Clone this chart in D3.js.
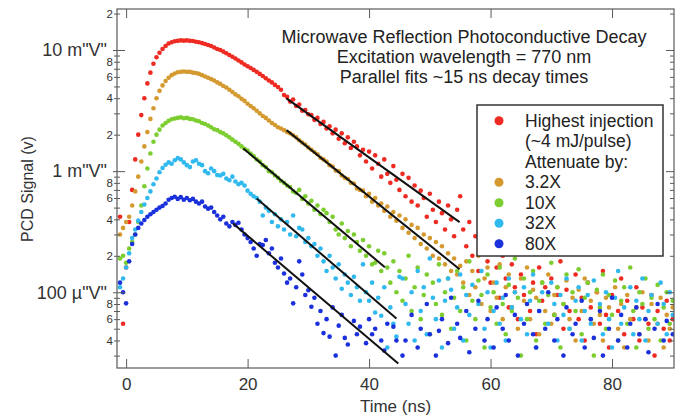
<!DOCTYPE html>
<html>
<head>
<meta charset="utf-8">
<script src="https://cdn.jsdelivr.net/npm/d3@7"></script>
<style>
  body { margin: 0; background: #fff; }
  svg { font-family: "Liberation Sans", Arial, Helvetica, sans-serif; }
</style>
</head>
<body>
<div id="chart"></div>
<script>
// PCD signal samples in microvolts, one value every 0.5 ns starting at -1 ns
// (null = point below the plotted range)
let sampleStart = -1;
let sampleStep = 0.5;

let seriesNames = ["Highest", "3.2X", "10X", "32X", "80X"];
let seriesColors = ["#ee2a22", "#d49a30", "#7ccd30", "#2fb9ee", "#1a30dc"];

let sigHighest = [
  420, 55, 160, 380, 700, 1250, 2000, 2900, 4000, 5300,
  6500, 7700, 8700, 9500, 10200, 10800, 11300, 11600, 11800, 11900,
  12000, 11950, 12000, 11900, 11850, 11700, 11600, 11400, 11200, 11000,
  10800, 10500, 10200, 10000, 9700, 9400, 9100, 8800, 8500, 8200,
  7900, 7600, 7350, 7100, 6850, 6600, 6350, 6100, 5850, 5600,
  5400, 5150, 4950, 4700, 4250, 4100, 3750, 3900, 3450, 3550,
  3150, 3200, 2950, 2900, 2650, 2750, 2450, 2550, 2250, 2350,
  2050, 2200, 1850, 2050, 1700, 1900, 1550, 1750, 1600, 1350,
  1500, 1200, 1450, 1050, 1350, 1150, 900, 1250, 950, 800,
  1100, 850, 700, 950, 620, 880, 560, 760, 520, 690,
  600, 420, 650, 480, 380, 560, 450, 330, 520, 400,
  290, 480, 620, 330, 240, 380, 200, 290, 150, 260,
  330, 180, 120, 230, 160, 90, 200, 130, 75, 170,
  110, 60, 140, 95, 210, 70, 120, 45, 160, 85,
  110, null, 130, 65, 95, 180, 50, 105, 70, null,
  140, 60, 90, 40, 120, 75, null, 100, 55, 150,
  65, 35, 95, null, 70, 130, 45, 85, null, 60,
  110, 40, 75, null, 55, 95, 30, 70, null, 50,
  85, 40, 60
];

let sig3_2X = [
  300, 340, 380, 420, 520, 680, 900, 1200, 1600, 2100,
  2700, 3300, 4000, 4600, 5100, 5550, 5900, 6200, 6400, 6550,
  6600, 6650, 6600, 6600, 6500, 6450, 6350, 6200, 6050, 5900,
  5750, 5600, 5400, 5250, 5050, 4900, 4700, 4500, 4300, 4150,
  3950, 3800, 3600, 3450, 3300, 3150, 3000, 2850, 2750, 2620,
  2500, 2400, 2300, 2250, 2180, 2100, 2050, 1980, 1900, 1800,
  1720, 1660, 1570, 1500, 1440, 1380, 1290, 1250, 1200, 1120,
  1090, 1010, 1000, 920, 880, 860, 800, 790, 720, 700,
  690, 620, 650, 560, 600, 520, 540, 470, 510, 420,
  460, 390, 430, 340, 400, 310, 360, 280, 340, 250,
  300, 230, 280, 200, 260, 190, 240, 170, 210, 150,
  190, 140, 165, 120, 180, 95, 150, 110, 200, 80,
  130, 160, 70, 120, 90, 170, 60, 110, 140, 75,
  100, 50, 130, 85, 160, 60, 105, 90, 45, 120,
  70, 140, 55, 95, 110, null, 80, 125, 60, 90,
  40, 105, 70, 130, null, 85, 55, 100, 65, 40,
  90, 75, null, 110, 50, 80, 35, 95, 60, null,
  75, 45, 100, 60, 40, 80, null, 55, 90, 35,
  65, 50, 75
];

let sig10X = [
  190, 200, 175, 230, 260, 300, 380, 520, 750, 1050,
  1400, 1750, 2000, 2200, 2380, 2500, 2600, 2680, 2720, 2750,
  2780, 2730, 2750, 2700, 2680, 2620, 2580, 2500, 2450, 2380,
  2300, 2220, 2180, 2100, 2050, 1980, 1900, 1820, 1750, 1680,
  1600, 1530, 1480, 1400, 1330, 1250, 1200, 1120, 1080, 1000,
  980, 920, 880, 830, 800, 760, 740, 680, 660, 700,
  590, 620, 540, 570, 480, 520, 440, 480, 450, 380,
  420, 330, 300, 370, 280, 320, 240, 300, 260, 220,
  270, 200, 240, 170, 175, 220, 150, 210, 160, 120,
  180, 100, 150, 85, 130, 200, 70, 110, 160, 60,
  95, 140, 45, 120, 80, 170, 65, 100, 130, 50,
  90, 150, 70, 110, 40, 180, 85, 60, 125, 95,
  35, 140, 75, 100, 55, 160, 80, 45, 115, 70,
  190, 90, 30, 130, 60, 100, 150, 40, 85, 120,
  55, 95, 175, 65, 110, 35, 80, 140, 50, 100,
  70, 155, 45, 90, 120, 60, 30, 105, 75, 140,
  50, 95, 65, 125, 40, 85, 110, 55, 160, 70,
  35, 100, 80, 130, 50, 90, 60, 115, 40, 75,
  100, 55, 85
];

let sig32X = [
  110, 130, 160, 210, 280, 330, 390, 460, 530, 600,
  680, 780, 870, 980, 1060, 1130, 1180, 1150, 1230, 1280,
  1250, 1180, 1120, 1080, 1200, 1230, 1150, 1120, 1000, 960,
  1050, 1000, 930, 920, 950, 870, 840, 900, 820, 780,
  800, 760, 690, 650, 620, 600, 560, 430, 500, 470,
  380, 440, 350, 400, 330, 380, 300, 430, 290, 340,
  330, 260, 280, 240, 250, 200, 230, 180, 150, 200,
  160, 130, 170, 107, 140, 120, 95, 134, 110, 85,
  170, 100, 85, 120, 68, 90, 64, 110, 35, 75,
  55, 43, 134, 130, 80, 55, 100, 40, 150, 70,
  110, 45, 190, 90, 60, 125, 35, 85, 130, 105,
  50, 75, 140, 40, 95, 65, 115, null, 80, 150,
  50, 100, 35, 70, 120, 55, 90, 40, 130, 75,
  100, null, 60, 110, 45, 85, 140, 35, 70, 100,
  null, 55, 120, 80, 40, 95, 65, 130, 50, null,
  85, 110, 40, 70, 95, 55, 125, null, 80, 45,
  100, 60, 35, 90, 150, 55, 75, null, 110, 45,
  85, 60, 130, 40, 70, 95, null, 55, 120, 80,
  45, 100, 65
];

let sig80X = [
  120, 100, 81, 180, 250, 300, 340, 370, 395, 420,
  440, 460, 480, 500, 515, 540, 580, 600, 615, 590,
  610, 580, 600, 575, 590, 560, 540, 560, 510, 490,
  500, 460, 430, 400, 420, 370, 350, 380, 360, 375,
  330, 300, 280, 260, 230, 200, 250, 245, 270, 210,
  230, 175, 160, 190, 143, 120, 130, 81, 110, 180,
  140, 95, 104, 76, 90, 55, 70, 46, 60, 43,
  75, 30, 53, 65, 42, 37, null, 58, 45, 52,
  null, 38, 60, 45, 50, null, 40, 33, 55, null,
  52, 40, null, 30, 40, null, 65, null, 35, 50,
  null, 80, 45, null, 30, 48, 60, null, 38, 90,
  null, 55, 42, null, 70, 32, null, 50, 85, null,
  40, 60, null, 35, 75, null, 50, 95, 40, null,
  65, 30, null, 55, 80, null, 45, 35, 70, null,
  50, 100, null, 40, 60, null, 30, 75, null, 45,
  55, null, 85, 35, null, 60, 42, null, 70, 30,
  null, 50, 90, null, 40, 65, null, 35, 55, null,
  75, 45, null, 60, 32, null, 50, 80, null, 40,
  58, null, 45
];

let allSeries = [sigHighest, sig3_2X, sig10X, sig32X, sig80X];

// ~15 ns exponential fits (time in ns, signal in V)
let fitStartTime = [26.4, 26.4, 19.3, 21.5, 17.6];
let fitStartValue = [3.99e-3, 2.18e-3, 1.54e-3, 5.95e-4, 3.70e-4];
let fitEndTime = [54.9, 54.9, 42.6, 44.5, 44.8];
let fitEndValue = [3.79e-4, 1.55e-4, 1.61e-4, 6.06e-5, 2.58e-5];

let xTicks = [0, 20, 40, 60, 80];
let yMajorTicks = [1e-4, 1e-3, 1e-2];
let yMajorLabels = ["100 \u00b5\"V\"", "1 m\"V\"", "10 m\"V\""];

let titleLines = [
  "Microwave Reflection Photoconductive Decay",
  "Excitation wavelength = 770 nm",
  "Parallel fits ~15 ns decay times"
];
let legendLabels = ["Highest injection", "(~4 mJ/pulse)", "Attenuate by:", "3.2X", "10X", "32X", "80X"];
let legendColorIndex = [0, null, null, 1, 2, 3, 4];

// layout
let totalWidth = 683, totalHeight = 418;
let margin = { top: 9, right: 9, bottom: 50, left: 117 };
let width = totalWidth - margin.left - margin.right;
let height = totalHeight - margin.top - margin.bottom;

let xScale = d3.scaleLinear()
  .domain([-1.5, 90.2])
  .range([0, width]);

let yScale = d3.scaleLog()
  .domain([2.37e-5, 2.18e-2])
  .range([height, 0]);

// minor ticks: 2..9 multiples of each decade inside the domain
let yMinorTicks = [];
[1e-5, 1e-4, 1e-3, 1e-2].forEach(dec => {
  for (let k = 2; k <= 9; k++) {
    let v = k * dec;
    if (v >= yScale.domain()[0] && v <= yScale.domain()[1]) yMinorTicks.push(v);
  }
});

let svg = d3.select("#chart")
  .append("svg")
  .attr("width", totalWidth)
  .attr("height", totalHeight);

let g = svg.append("g")
  .attr("transform", "translate(" + margin.left + "," + margin.top + ")");

g.append("clipPath")
  .attr("id", "plotClip")
  .append("rect")
  .attr("width", width)
  .attr("height", height);

// data dots
let dotLayer = g.append("g").attr("clip-path", "url(#plotClip)");
allSeries.forEach((values, si) => {
  let pts = values
    .map((v, i) => ({ t: sampleStart + i * sampleStep, v: v }))
    .filter(d => d.v !== null);
  dotLayer.append("g")
    .selectAll("circle")
    .data(pts)
    .enter()
    .append("circle")
    .attr("cx", d => xScale(d.t))
    .attr("cy", d => yScale(d.v * 1e-6))
    .attr("r", 2.3)
    .attr("fill", seriesColors[si]);
});

// fit lines
fitStartTime.forEach((t0, i) => {
  dotLayer.append("line")
    .attr("x1", xScale(t0))
    .attr("y1", yScale(fitStartValue[i]))
    .attr("x2", xScale(fitEndTime[i]))
    .attr("y2", yScale(fitEndValue[i]))
    .attr("stroke", "#111")
    .attr("stroke-width", 2);
});

// axes
let tickColor = "#5a5a5a";
let labelColor = "#333";

function styleAxis(sel) {
  sel.select(".domain").remove();
  sel.selectAll(".tick line").attr("stroke", tickColor).attr("stroke-width", 1);
}

// bottom: inward ticks with labels
g.append("g")
  .attr("transform", "translate(0," + height + ")")
  .call(d3.axisBottom(xScale).tickValues(xTicks).tickSizeInner(-9).tickSizeOuter(0))
  .call(styleAxis)
  .call(a => a.selectAll("text").attr("fill", labelColor).style("font-size", "17px").attr("y", 0).attr("dy", "22px"));

// top mirror ticks
g.append("g")
  .call(d3.axisTop(xScale).tickValues(xTicks).tickSizeInner(-9).tickSizeOuter(0).tickFormat(""))
  .call(styleAxis);

// left: minor ticks with digit labels (2, 4, 6, 8 only)
let minorFmt = v => {
  let k = Math.round(v / Math.pow(10, Math.floor(Math.log10(v) + 1e-9)));
  return (k % 2 === 0) ? String(k) : "";
};
g.append("g")
  .call(d3.axisLeft(yScale).tickValues(yMinorTicks).tickSizeInner(3).tickSizeOuter(0).tickPadding(1).tickFormat(minorFmt))
  .call(styleAxis)
  .call(a => a.selectAll("text").attr("fill", labelColor).style("font-size", "11.5px"));
g.append("g")
  .call(d3.axisLeft(yScale).tickValues(yMinorTicks).tickSizeInner(-3).tickSizeOuter(0).tickFormat(""))
  .call(styleAxis);

// left: major ticks
g.append("g")
  .call(d3.axisLeft(yScale).tickValues(yMajorTicks).tickSizeInner(4).tickSizeOuter(0).tickPadding(6)
    .tickFormat((d, i) => yMajorLabels[i]))
  .call(styleAxis)
  .call(a => a.selectAll("text").attr("fill", labelColor).style("font-size", "18px"));
g.append("g")
  .call(d3.axisLeft(yScale).tickValues(yMajorTicks).tickSizeInner(-8).tickSizeOuter(0).tickFormat(""))
  .call(styleAxis);

// right mirror ticks
g.append("g")
  .attr("transform", "translate(" + width + ",0)")
  .call(d3.axisRight(yScale).tickValues(yMinorTicks).tickSizeInner(-4).tickSizeOuter(0).tickFormat(""))
  .call(styleAxis);
g.append("g")
  .attr("transform", "translate(" + width + ",0)")
  .call(d3.axisRight(yScale).tickValues(yMajorTicks).tickSizeInner(-8).tickSizeOuter(0).tickFormat(""))
  .call(styleAxis);

// frame
g.append("rect")
  .attr("width", width)
  .attr("height", height)
  .attr("fill", "none")
  .attr("stroke", tickColor)
  .attr("stroke-width", 1.2);

// axis titles
svg.append("text")
  .attr("x", margin.left + width / 2)
  .attr("y", 412)
  .attr("text-anchor", "middle")
  .attr("fill", labelColor)
  .style("font-size", "17px")
  .text("Time (ns)");

svg.append("text")
  .attr("transform", "translate(33," + (margin.top + 180) + ") rotate(-90)")
  .attr("text-anchor", "middle")
  .attr("fill", labelColor)
  .style("font-size", "16px")
  .text("PCD Signal (v)");

// title block
titleLines.forEach((line, i) => {
  svg.append("text")
    .attr("x", 464)
    .attr("y", 43 + i * 20)
    .attr("text-anchor", "middle")
    .attr("fill", "#222")
    .style("font-size", "18px")
    .text(line);
});

// legend
let legend = svg.append("g").attr("transform", "translate(477,105)");
legend.append("rect")
  .attr("width", 186)
  .attr("height", 151)
  .attr("fill", "#fff")
  .attr("stroke", "#333")
  .attr("stroke-width", 1.5);

legendLabels.forEach((label, i) => {
  let cy = 15.7 + i * 20.5;
  if (legendColorIndex[i] !== null) {
    legend.append("circle")
      .attr("cx", 22)
      .attr("cy", cy)
      .attr("r", 4.5)
      .attr("fill", seriesColors[legendColorIndex[i]]);
  }
  legend.append("text")
    .attr("x", 48)
    .attr("y", cy + 6)
    .attr("fill", "#222")
    .style("font-size", "17.5px")
    .text(label);
});
</script>
</body>
</html>
